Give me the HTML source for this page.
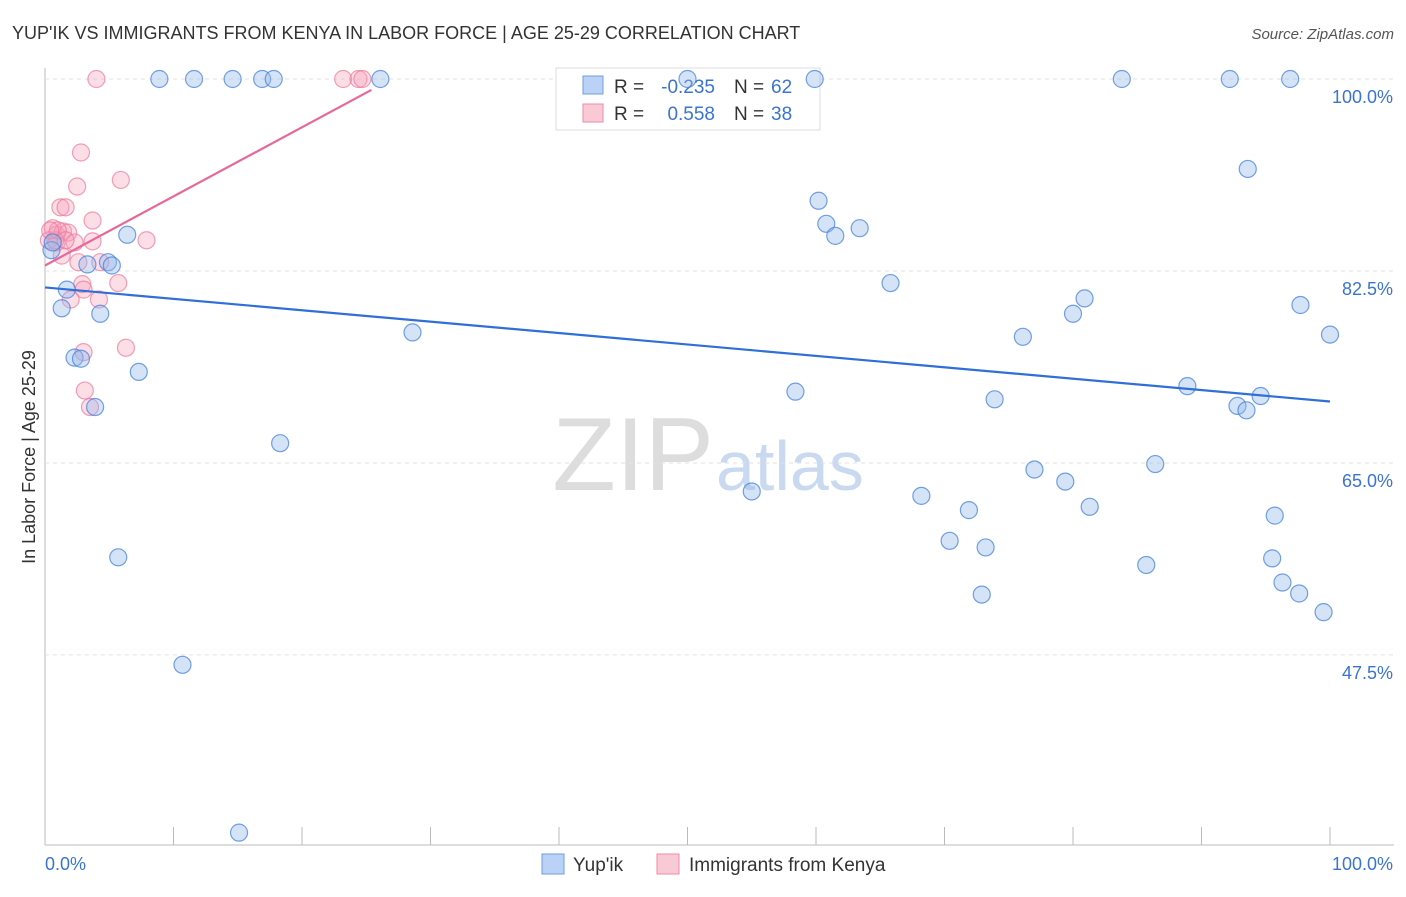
<!DOCTYPE html>
<html><head><meta charset="utf-8"><style>
body{margin:0;background:#fff;font-family:"Liberation Sans",sans-serif;}
svg text{font-family:"Liberation Sans",sans-serif;}
</style></head><body>
<svg id="c" width="1406" height="892" xmlns="http://www.w3.org/2000/svg">
<text x="12" y="39" font-size="18" fill="#333">YUP'IK VS IMMIGRANTS FROM KENYA IN LABOR FORCE | AGE 25-29 CORRELATION CHART</text>
<text x="1394" y="39" font-size="15" fill="#555" font-style="italic" text-anchor="end">Source: ZipAtlas.com</text>
<text x="35" y="457" font-size="18" fill="#333" text-anchor="middle" transform="rotate(-90 35 457)">In Labor Force | Age 25-29</text>
<text x="714" y="490" font-size="104" fill="#ddd" text-anchor="end" font-family="Liberation Serif">ZIP</text>
<text x="716" y="490" font-size="70" fill="#c9d9f0">atlas</text>
<g id="grid"></g>
<g>
<rect x="556" y="68" width="264" height="62" fill="#fff" stroke="#ddd"/>
<rect x="583" y="76" width="20" height="18" fill="#b9d2f5" stroke="#6f9ee0"/>
<rect x="583" y="104" width="20" height="18" fill="#f9c9d6" stroke="#f08aa8"/>
<text x="614" y="93" font-size="19" fill="#333">R =</text>
<text x="715" y="93" font-size="19" fill="#3a74d0" text-anchor="end">-0.235</text>
<text x="734" y="93" font-size="19" fill="#333">N =</text>
<text x="771" y="93" font-size="19" fill="#3a74d0">62</text>
<text x="614" y="120" font-size="19" fill="#333">R =</text>
<text x="715" y="120" font-size="19" fill="#3a74d0" text-anchor="end">0.558</text>
<text x="734" y="120" font-size="19" fill="#333">N =</text>
<text x="771" y="120" font-size="19" fill="#3a74d0">38</text>
</g>
<g id="marks"></g>
<g>
<rect x="542" y="854" width="22" height="20" fill="#b9d2f5" stroke="#6f9ee0"/>
<text x="573" y="871" font-size="19" fill="#333">Yup'ik</text>
<rect x="657" y="854" width="22" height="20" fill="#f9c9d6" stroke="#f08aa8"/>
<text x="689" y="871" font-size="19" fill="#333">Immigrants from Kenya</text>
</g>
</svg>
<script>
const yTicks=[100,82.5,65,47.5];
const blueX=[8.9,11.6,14.6,16.9,17.8,26.1,50.0,59.9,83.8,92.2,96.9,93.6,60.2,60.8,61.5,63.4,6.4,0.5,0.6,3.3,4.9,5.2,65.8,1.7,1.3,4.3,28.6,80.9,80.0,97.7,100,76.1,2.3,2.8,7.3,58.4,88.9,73.9,92.8,93.5,94.6,3.9,18.3,77.0,86.4,55.0,68.2,79.4,81.3,71.9,95.7,70.4,73.2,5.7,85.7,95.5,96.3,72.9,97.6,99.5,10.7,15.1];
const blueY=[100,100,100,100,100,100,100,100,100,100,100,91.8,88.9,86.8,85.7,86.4,85.8,84.4,85.1,83.1,83.3,83.0,81.4,80.8,79.1,78.6,76.9,80.0,78.6,79.4,76.7,76.5,74.6,74.5,73.3,71.5,72.0,70.8,70.2,69.8,71.1,70.1,66.8,64.4,64.9,62.4,62.0,63.3,61.0,60.7,60.2,57.9,57.3,56.4,55.7,56.3,54.1,53.0,53.1,51.4,46.6,31.3];
const pinkX=[4.0,23.2,24.4,24.7,2.8,2.5,5.9,1.2,1.6,3.7,0.6,0.9,1.4,1.8,0.3,0.9,2.3,3.7,7.9,1.3,2.6,4.3,2.9,5.7,3.0,4.2,2.0,3.0,6.3,3.1,3.5,0.8,1.0,0.4,1.6];
const pinkY=[100,100,100,100,93.3,90.2,90.8,88.3,88.3,87.1,86.4,85.8,86.1,86.0,85.3,85.1,85.1,85.2,85.3,83.9,83.3,83.3,81.3,81.4,80.8,79.9,79.9,75.1,75.5,71.6,70.1,85.3,86.2,86.2,85.3];
const blueTrend=[81.0,-0.104];
const pinkTrend=[83.0,0.63];
const pinkTrendRange=[0,25.4];
const X=v=>45+v*12.85, Y=v=>79+(100-v)*10.97;
const NS="http://www.w3.org/2000/svg";
const grid=document.getElementById('grid'), marks=document.getElementById('marks');
function mk(p,tag,a){const e=document.createElementNS(NS,tag);for(const k in a)e.setAttribute(k,a[k]);p.appendChild(e);return e;}
let ax=mk(grid,'line',{x1:45,y1:68,x2:45,y2:845,stroke:'#bbb'});


let bx=mk(grid,'line',{x1:45,y1:845,x2:1394,y2:845,stroke:'#bbb'});


for(let i=1;i<=10;i++){let t=mk(grid,'line',{x1:45+i*128.5,y1:827,x2:45+i*128.5,y2:845,stroke:'#bbb'});

}
yTicks.forEach(v=>{let l=mk(grid,'line',{x1:45,y1:Y(v),x2:1394,y2:Y(v),stroke:'#e2e2e2','stroke-dasharray':'4 4'});


let t=mk(grid,'text',{x:1393,y:Y(v)+24,'font-size':18,fill:'#3a74d0','text-anchor':'end'});t.textContent=v.toFixed(1)+'%';

});
let x0=mk(grid,'text',{x:45,y:870,'font-size':18,fill:'#3a74d0'});x0.textContent='0.0%';


let x1=mk(grid,'text',{x:1393,y:870,'font-size':18,fill:'#3a74d0','text-anchor':'end'});x1.textContent='100.0%';


pinkX.forEach((v,i)=>{let c=mk(marks,'circle',{cx:X(v),cy:Y(pinkY[i]),r:8.5,fill:'rgba(245,160,185,0.35)',stroke:'rgba(236,120,155,0.7)','stroke-width':1.2});

});
blueX.forEach((v,i)=>{let c=mk(marks,'circle',{cx:X(v),cy:Y(blueY[i]),r:8.5,fill:'rgba(150,185,235,0.4)',stroke:'rgba(70,130,220,0.75)','stroke-width':1.2});

});
let bl=mk(marks,'line',{x1:X(0),y1:Y(blueTrend[0]),x2:X(100),y2:Y(blueTrend[0]+100*blueTrend[1]),stroke:'#2f6fd6','stroke-width':2.2});


let pl=mk(marks,'line',{x1:X(pinkTrendRange[0]),y1:Y(pinkTrend[0]+pinkTrendRange[0]*pinkTrend[1]),x2:X(pinkTrendRange[1]),y2:Y(pinkTrend[0]+pinkTrendRange[1]*pinkTrend[1]),stroke:'#e8689a','stroke-width':2.2});


</script>
</body></html>
